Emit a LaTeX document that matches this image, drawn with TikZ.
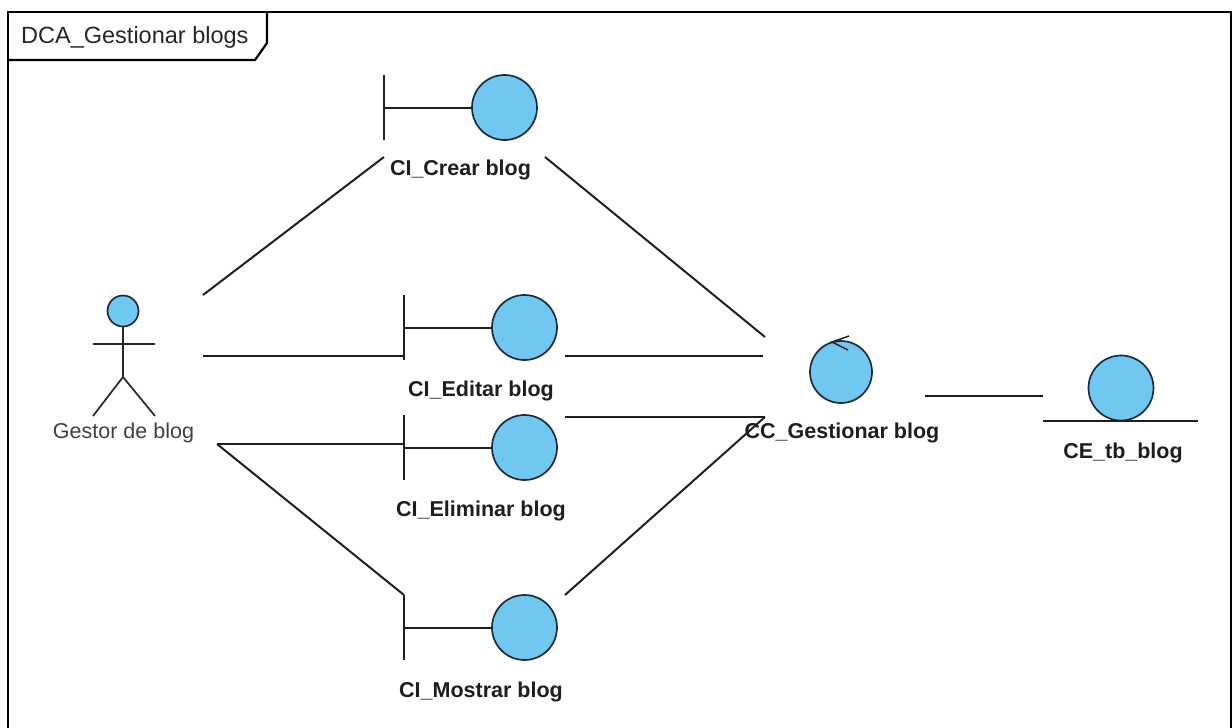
\documentclass[tikz,border=0pt]{standalone}
\usepackage{fontspec}
\setmainfont{Liberation Sans}
\usetikzlibrary{calc, positioning}
\definecolor{vpblue}{RGB}{112,200,240}
\definecolor{vpedge}{RGB}{28,44,60}
\definecolor{vptext}{RGB}{30,30,30}
\tikzset{
  x=1pt, y=-1pt,
  frame/.style={draw=black, line width=2.2pt},
  lnk/.style={draw=black!88, line width=2pt},
  stick/.style={draw=black!85, line width=1.7pt},
  obj/.style={shape=circle, draw=vpedge, fill=vpblue, line width=1.7pt, minimum size=65pt, inner sep=0pt, outer sep=0pt},
  head/.style={obj, minimum size=31pt},
  lbl/.style={font=\fontsize{21.5}{24}\selectfont\bfseries, text=vptext, inner sep=0pt},
  actorlbl/.style={font=\fontsize{21.5}{24}\selectfont, text=black!75, inner sep=0pt},
  tabtext/.style={font=\fontsize{23.5}{26}\selectfont, text=black!85, inner sep=0pt}
}

\begin{document}
\begin{tikzpicture}
  \useasboundingbox (0,0) rectangle (1232,728);

  % frame with its tab
  \draw[frame] (8,740) -- (8,12) -- (1231,12) -- (1231,740);
  \draw[frame] (8,60) -- (255,60) -- (267,43) -- (267,12);
  \node[tabtext, anchor=west] (title) at (21,37) {DCA\_Gestionar blogs};

  % actor
  \node[head] (gestor) at (123,311) {};
  \draw[stick] (gestor.south) -- (123,377) coordinate (hip);
  \draw[stick] (93,344) -- (155,344);
  \draw[stick] (93,416) -- (hip) -- (155,416);
  \node[actorlbl] (gestorlbl) at (123.5,433) {Gestor de blog};

  % boundaries
  \node[obj] (crear) at (504.5,107.5) {};
  \draw[lnk] (384,75) -- (384,140) coordinate[pos=0.5] (crearbar);
  \draw[lnk] (crearbar) -- (crear);
  \node[lbl] (crearlbl) at (460.5,170) {CI\_Crear blog};

  \node[obj] (editar) at (524.5,327.5) {};
  \draw[lnk] (404,295) -- (404,360) coordinate[pos=0.5] (editarbar);
  \draw[lnk] (editarbar) -- (editar);
  \node[lbl] (editarlbl) at (481,391) {CI\_Editar blog};

  \node[obj] (eliminar) at (524.5,447.5) {};
  \draw[lnk] (404,415) -- (404,480) coordinate[pos=0.5] (eliminarbar);
  \draw[lnk] (eliminarbar) -- (eliminar);
  \node[lbl] (eliminarlbl) at (481,511) {CI\_Eliminar blog};

  \node[obj] (mostrar) at (524.5,627.5) {};
  \draw[lnk] (404,595) -- (404,660) coordinate[pos=0.5] (mostrarbar);
  \draw[lnk] (mostrarbar) -- (mostrar);
  \node[lbl] (mostrarlbl) at (481,692) {CI\_Mostrar blog};

  % control
  \node[obj, minimum size=62pt] (cc) at (841,372) {};
  \draw[lnk, line width=1.5pt] ($(cc.north)+(8,-5)$) -- ($(cc.north)+(-9,1)$) -- ($(cc.north)+(7,9)$);
  \node[lbl] (cclbl) at (842,433) {CC\_Gestionar blog};

  % entity
  \node[obj] (ce) at (1121,388) {};
  \draw[lnk] ($(ce.south)+(-78,0)$) -- ($(ce.south)+(77,0)$);
  \node[lbl] (celbl) at (1123,453) {CE\_tb\_blog};

  % connector ends
  \coordinate (gestorne) at (203,295);
  \coordinate (gestore) at (203,356);
  \coordinate (gestorse) at (217,444);
  \coordinate (crearsw) at (384,157);
  \coordinate (crearse) at (545,157);
  \coordinate (editarw) at (404,356);
  \coordinate (editare) at (565,356);
  \coordinate (eliminarw) at (404,444);
  \coordinate (eliminare) at (565,417);
  \coordinate (mostrarnw) at (404,595);
  \coordinate (mostrarne) at (565,595);
  \coordinate (ccnw) at (765,337);
  \coordinate (ccw) at (763,356);
  \coordinate (ccsw) at (765,417);
  \coordinate (cce) at (925,396);
  \coordinate (cew) at (1043,396);

  \begin{scope}[every path/.style={lnk}]
    \draw (gestorne) -- (crearsw);
    \draw (gestore) -- (editarw);
    \draw (gestorse) -- (eliminarw);
    \draw (gestorse) -- (mostrarnw);
    \draw (crearse) -- (ccnw);
    \draw (editare) -- (ccw);
    \draw (eliminare) -- (ccsw);
    \draw (mostrarne) -- (ccsw);
    \draw (cce) -- (cew);
  \end{scope}
\end{tikzpicture}
\end{document}
